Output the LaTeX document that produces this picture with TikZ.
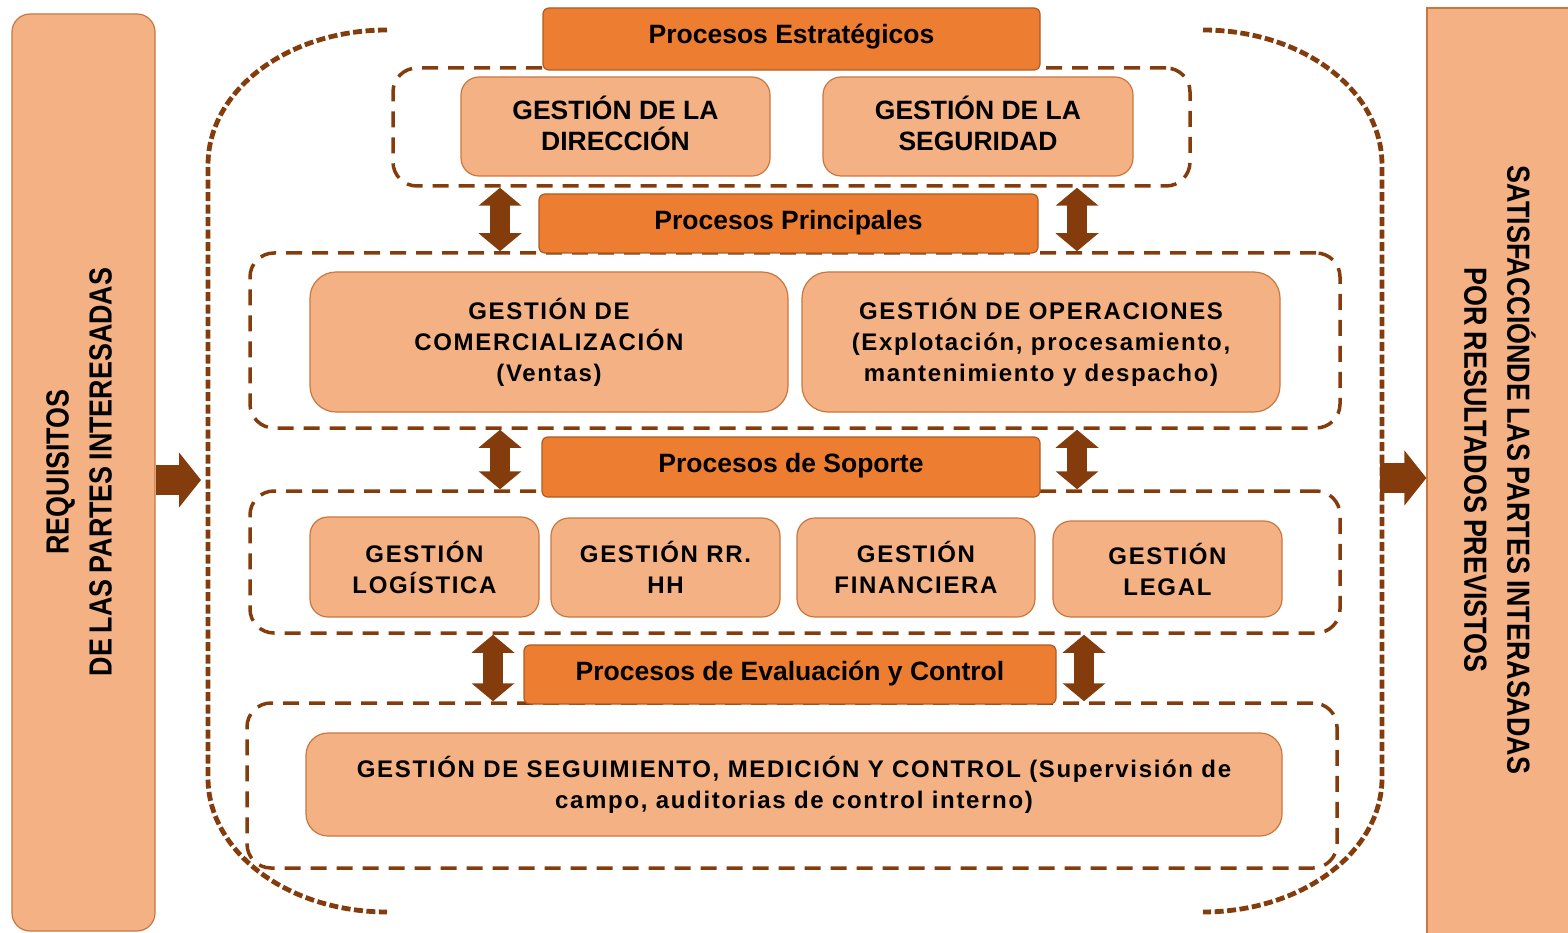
\documentclass[tikz,border=0pt]{standalone}
\usepackage{fontspec}
\setmainfont{Liberation Sans}
\newfontfamily\hdfont{Liberation Sans}
\newfontfamily\wdfont{Liberation Sans}[LetterSpace=7]
\newfontfamily\sdfont{Liberation Sans}[FakeStretch=0.84,WordSpace=0.8]
\usetikzlibrary{arrows.meta}
\definecolor{lorange}{HTML}{F4B183}
\definecolor{lborder}{HTML}{C9773F}
\definecolor{dorange}{HTML}{ED7D31}
\definecolor{dborder}{HTML}{AE5A21}
\definecolor{brown}{HTML}{843C0C}
\tikzset{
  box/.style={draw=lborder, line width=1.2pt, fill=lorange, rounded corners=18pt, inner sep=0pt, align=center, text=black},
  hdr/.style={draw=dborder, line width=1.2pt, fill=dorange, rounded corners=6pt, inner sep=0pt, align=center, text=black, font=\hdfont\bfseries\fontsize{26.5}{30}\selectfont},
  grp/.style={draw=brown, line width=3.5pt, dash pattern=on 16pt off 10pt, rounded corners=24pt, inner sep=0pt},
  outer/.style={draw=brown, line width=4.8pt, dash pattern=on 9pt off 3.5pt},
  darr/.style={draw=brown, line width=20pt, {Triangle[length=18pt,width=42pt]}-{Triangle[length=18pt,width=42pt]}},
  bigarr/.style={draw=brown, line width=30pt, -{Triangle[length=22pt,width=54pt]}},
  topfont/.style={font=\bfseries\fontsize{26.5}{31}\selectfont},
  midfont/.style={font=\wdfont\bfseries\fontsize{24}{31}\selectfont},
  sidetext/.style={font=\sdfont\bfseries\fontsize{32}{43}\selectfont, align=center, inner sep=0pt}
}
\begin{document}
\begin{tikzpicture}[x=1pt,y=-1pt]
\useasboundingbox (0,0) rectangle (1568,933);
% side bars
\node[box, rounded corners=18pt, minimum width=143pt, minimum height=917pt] (L) at (83.5,472.5) {};
\node[sidetext, rotate=90] (Lt) at (79,472) {REQUISITOS\\DE LAS PARTES INTERESADAS};
\node[box, rounded corners=0pt, minimum width=173pt, minimum height=952pt] (R) at (1513.5,484) {};
\node[sidetext, rotate=-90] (Rt) at (1500,470) {SATISFACCIÓNDE LAS PARTES INTERASADAS\\POR RESULTADOS PREVISTOS};
% outer brackets
\draw[outer] (387,30) .. controls (288,30) and (208,90) .. (208,165) -- (208,778) .. controls (208,852) and (288,912) .. (387,912);
\draw[outer] (1203,30) .. controls (1302,30) and (1382,90) .. (1382,165) -- (1382,778) .. controls (1382,852) and (1302,912) .. (1203,912);
% groups
\node[grp, minimum width=797pt, minimum height=118pt] (g1) at (791.5,127) {};
\node[grp, minimum width=1090pt, minimum height=175pt] (g2) at (795,340.5) {};
\node[grp, minimum width=1090pt, minimum height=142pt] (g3) at (795,562) {};
\node[grp, minimum width=1090pt, minimum height=165pt] (g4) at (792,785.5) {};
% boxes
\node[box, topfont, minimum width=309pt, minimum height=99pt] (b11) at (615.5,126.5) {GESTIÓN DE LA\\DIRECCIÓN\rule[-6pt]{0pt}{1pt}};
\node[box, topfont, minimum width=310pt, minimum height=99pt] (b12) at (978,126.5) {GESTIÓN DE LA\\SEGURIDAD\rule[-6pt]{0pt}{1pt}};
\node[box, midfont, rounded corners=26pt, minimum width=478pt, minimum height=140pt] (b21) at (549,342) {GESTIÓN DE\\COMERCIALIZACIÓN\\(Ventas)};
\node[box, midfont, rounded corners=26pt, minimum width=478pt, minimum height=140pt] (b22) at (1041,342) {GESTIÓN DE OPERACIONES\\(Explotación, procesamiento,\\mantenimiento y despacho)};
\node[box, midfont, minimum width=229pt, minimum height=100pt] (b31) at (424.5,567) {GESTIÓN\\LOGÍSTICA};
\node[box, midfont, minimum width=229pt, minimum height=99pt] (b32) at (665.5,567.5) {GESTIÓN RR.\\HH};
\node[box, midfont, minimum width=238pt, minimum height=99pt] (b33) at (916,567.5) {GESTIÓN\\FINANCIERA};
\node[box, midfont, minimum width=229pt, minimum height=96pt] (b34) at (1167.5,569) {GESTIÓN\\LEGAL};
\node[box, midfont, rounded corners=22pt, minimum width=976pt, minimum height=103pt] (b41) at (794,784.5) {GESTIÓN DE SEGUIMIENTO, MEDICIÓN Y CONTROL (Supervisión de\\campo, auditorias de control interno)};
% headers
\node[hdr, minimum width=497pt, minimum height=62pt] (h1) at (791.5,39) {Procesos Estratégicos\rule[-10pt]{0pt}{1pt}};
\node[hdr, minimum width=499pt, minimum height=59pt] (h2) at (788.5,223.5) {Procesos Principales\rule[-8pt]{0pt}{1pt}};
\node[hdr, minimum width=498pt, minimum height=60pt] (h3) at (791,467) {Procesos de Soporte\rule[-8pt]{0pt}{1pt}};
\node[hdr, minimum width=532pt, minimum height=59pt] (h4) at (790,674.5) {Procesos de Evaluación y Control\rule[-8pt]{0pt}{1pt}};
% double arrows
\coordinate (xa) at (500,0);
\coordinate (xb) at (1077,0);
\coordinate (xc) at (493,0);
\coordinate (xd) at (1084,0);
\draw[darr] (g1.south -| xa) -- (g2.north -| xa);
\draw[darr] (g1.south -| xb) -- (g2.north -| xb);
\draw[darr] (g2.south -| xa) -- (g3.north -| xa);
\draw[darr] (g2.south -| xb) -- (g3.north -| xb);
\draw[darr] (g3.south -| xc) -- (g4.north -| xc);
\draw[darr] (g3.south -| xd) -- (g4.north -| xd);
% side arrows
\coordinate (la) at (201,480);
\coordinate (ra) at (1380,478);
\draw[bigarr] (L.east |- la) -- (la);
\draw[bigarr] (ra) -- (R.west |- ra);
\end{tikzpicture}
\end{document}
